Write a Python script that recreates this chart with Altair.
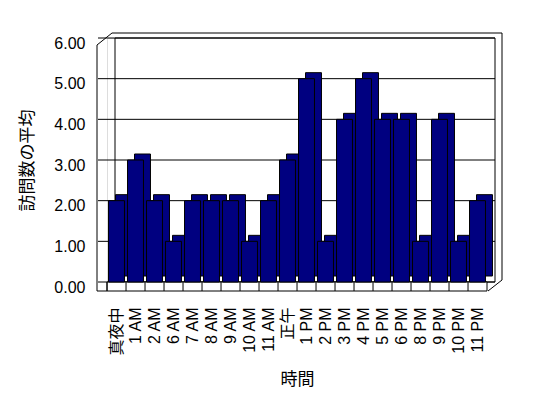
import altair as alt
import pandas as pd

hours = ["真夜中", "1 AM", "2 AM", "6 AM", "7 AM", "8 AM", "9 AM", "10 AM", "11 AM", "正午",
         "1 PM", "2 PM", "3 PM", "4 PM", "5 PM", "6 PM", "8 PM", "9 PM", "10 PM", "11 PM"]
avg_visits = [2, 3, 2, 1, 2, 2, 2, 1, 2, 3, 5, 1, 4, 5, 4, 4, 1, 4, 1, 2]
y_ticks = [0, 1, 2, 3, 4, 5, 6]

bars_df = pd.DataFrame({"時間": hours, "訪問数の平均": avg_visits})
grid_df = pd.DataFrame({"訪問数の平均": y_ticks})
wall_df = pd.DataFrame({"訪問数の平均": [6], "bottom": [0]})
frame_df = pd.DataFrame({
    "x": [5, 395, 381, -10, -10, -10],
    "y": [-5, -5, 253, 7, 7, 253],
    "x2": [395, 395, 395, 5, -10, 0],
    "y2": [-5, 242, 242, -5, 253, 253],
})

W, H = 380, 244
NAVY = "#000080"
FONT = "Liberation Sans, Noto Sans CJK JP"

x_scale = alt.Scale(domain=hours, paddingInner=0.16, paddingOuter=0.08)
y_scale = alt.Scale(domain=[0, 6], nice=False)

y_axis = alt.Axis(title="訪問数の平均", values=y_ticks, format=".2f", grid=False, domain=False,
                  ticks=False, offset=9, labelPadding=13, labelOffset=5, labelFontSize=16,
                  labelColor="black", labelFont=FONT, titleFont=FONT, titleFontSize=17,
                  titleFontWeight="normal", titleColor="black", titlePadding=17)
x_axis = alt.Axis(title="時間", labelAngle=270, labelAlign="right", labelBaseline="middle",
                  domain=False, ticks=False, labelPadding=25, labelFontSize=16, labelColor="black",
                  labelFont=FONT, titleFont=FONT, titleFontSize=17, titleFontWeight="normal",
                  titleColor="black", titlePadding=16)

x_enc = alt.X("時間:N", scale=x_scale, sort=hours, axis=x_axis)
y_enc = alt.Y("訪問数の平均:Q", scale=y_scale, axis=y_axis)

wall = alt.Chart(wall_df).mark_rect(fill="white", stroke="black", strokeWidth=1).encode(
    x=alt.value(8), x2=alt.value(W + 8), y=y_enc, y2=alt.Y2("bottom:Q"))

grid = alt.Chart(grid_df).mark_rule(color="black", strokeWidth=1).encode(
    x=alt.value(-9), x2=alt.value(W + 8), y=y_enc)

floor = alt.Chart(wall_df).mark_rect(fill="white", stroke="black", strokeWidth=1).encode(
    x=alt.value(0), x2=alt.value(W), y=alt.value(H), y2=alt.value(H + 9))

dividers = alt.Chart(bars_df).mark_rule(color="black", strokeWidth=1, xOffset=-1.5).encode(
    x=alt.X("時間:N", scale=x_scale, sort=hours, axis=x_axis, bandPosition=0),
    y=alt.value(H), y2=alt.value(H + 9))

frame = alt.Chart(frame_df).mark_rule(color="black", strokeWidth=1).encode(
    x=alt.X("x:Q", scale=None), x2="x2:Q", y=alt.Y("y:Q", scale=None), y2="y2:Q")

back_bars = alt.Chart(bars_df).mark_bar(color=NAVY, stroke="black", strokeWidth=1,
                                        xOffset=7, yOffset=-6).encode(x=x_enc, y=y_enc)
front_bars = alt.Chart(bars_df).mark_bar(color=NAVY, stroke="black", strokeWidth=1).encode(
    x=x_enc, y=y_enc)

chart = alt.layer(wall, grid, floor, dividers, frame, back_bars, front_bars).properties(
    width=W, height=H,
    autosize=alt.AutoSizeParams(type="none"),
    padding={"left": 99, "top": 30, "right": 53, "bottom": 108},
).configure_view(stroke=None).configure(background="white")

chart.save("out.html", embed_options={"renderer": "svg", "actions": False})
